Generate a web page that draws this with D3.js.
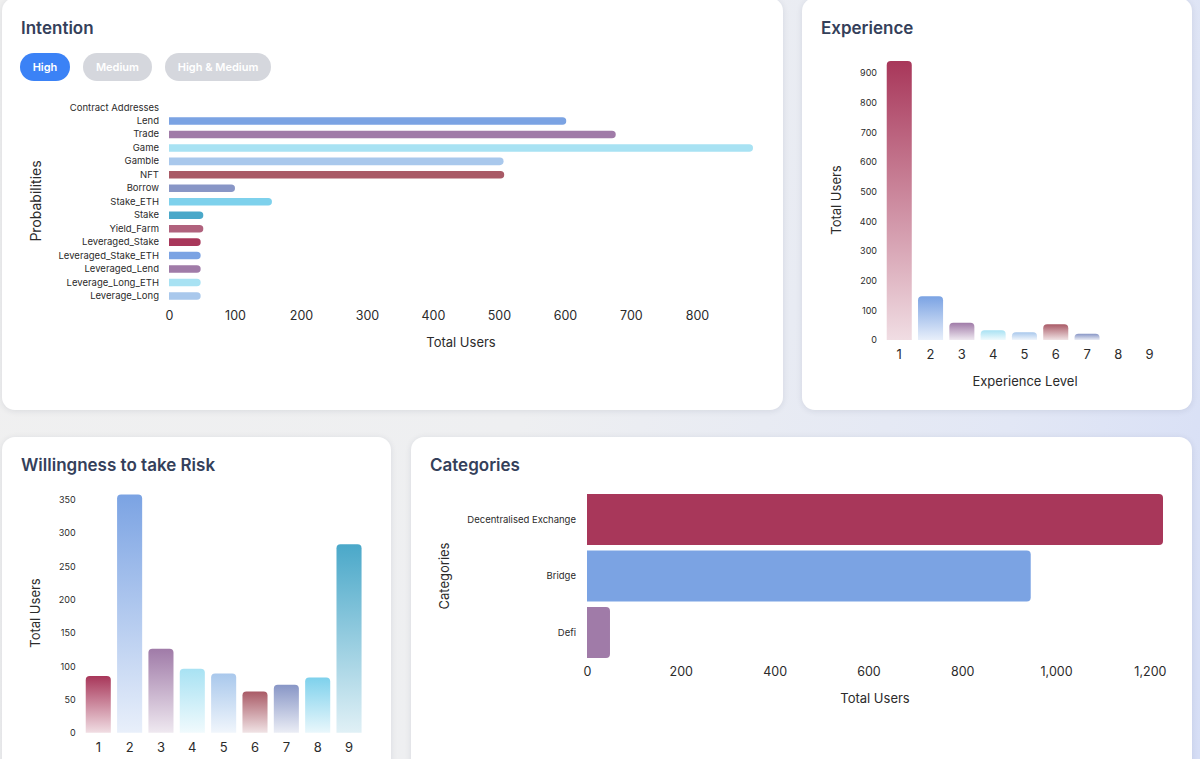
<!DOCTYPE html>
<html>
<head>
<meta charset="utf-8">
<script src="https://cdn.jsdelivr.net/npm/d3@7/dist/d3.min.js"></script>
<style>
  html, body { margin: 0; padding: 0; }
  body {
    width: 1200px; height: 759px; overflow: hidden; position: relative;
    background: linear-gradient(105deg, #f0f0f0 0%, #eeeff1 45%, #e2e7f5 80%, #d6def6 100%);
    font-family: Inter, "Open Sans", sans-serif;
  }
  .card {
    position: absolute; background: #fff; border-radius: 13px;
    box-shadow: 0 1px 6px rgba(30, 40, 70, 0.10);
  }
  #chart { position: absolute; left: 0; top: 0; }
</style>
</head>
<body>
<div class="card" style="left:2px; top:-2px; width:781px; height:412px;"></div>
<div class="card" style="left:802px; top:-2px; width:390px; height:412px;"></div>
<div class="card" style="left:2px; top:437px; width:389px; height:340px;"></div>
<div class="card" style="left:411px; top:437px; width:781px; height:340px;"></div>
<svg id="chart"></svg>
<script>
// palette used by every chart, in series order
const palette = ['#a8375a', '#7ba3e3', '#a07ba8', '#a8e2f3', '#a9c8ec',
                 '#a95a66', '#8896c6', '#7ed1ec', '#4aa8c9', '#b0627d'];

// Intention
const intentButtons = ['High', 'Medium', 'High & Medium'];
const intentCats = ['Contract Addresses', 'Lend', 'Trade', 'Game', 'Gamble', 'NFT', 'Borrow',
  'Stake_ETH', 'Stake', 'Yield_Farm', 'Leveraged_Stake', 'Leveraged_Stake_ETH',
  'Leveraged_Lend', 'Leverage_Long_ETH', 'Leverage_Long'];
const intentVals = [0, 602, 677, 885, 507, 508, 100, 156, 52, 52, 48, 48, 48, 48, 48];
const intentTicks = [0, 100, 200, 300, 400, 500, 600, 700, 800];

// Experience
const expLevels = ['1', '2', '3', '4', '5', '6', '7', '8', '9'];
const expVals = [940, 147, 58, 33, 26, 53, 21, 0, 0];
const expTicks = [0, 100, 200, 300, 400, 500, 600, 700, 800, 900];

// Willingness to take Risk
const riskLevels = ['1', '2', '3', '4', '5', '6', '7', '8', '9'];
const riskVals = [85, 358, 126, 96, 89, 62, 72, 83, 283];
const riskTicks = [0, 50, 100, 150, 200, 250, 300, 350];

// Categories
const catNames = ['Decentralised Exchange', 'Bridge', 'Defi'];
const catVals = [1228, 946, 49];
const catTicks = [0, 200, 400, 600, 800, 1000, 1200];

const svg = d3.select('#chart').attr('width', 1200).attr('height', 759);

// gradients for the vertical bars
const defs = svg.append('defs');
palette.forEach((c, i) => {
  const g = defs.append('linearGradient')
    .attr('id', 'grad' + i)
    .attr('x1', 0).attr('y1', 0).attr('x2', 0).attr('y2', 1);
  g.append('stop').attr('offset', '0%').attr('stop-color', c).attr('stop-opacity', 1);
  g.append('stop').attr('offset', '100%').attr('stop-color', c).attr('stop-opacity', 0.17);
});

const titleColor = '#34405a';
const textColor = '#2b2b2b';

const title = (x, y, t) => svg.append('text')
  .attr('x', x).attr('y', y).text(t)
  .style('font-size', '17px').style('font-weight', 600).style('fill', titleColor);

const axisTitle = (x, y, t, rotate) => {
  const el = svg.append('text')
    .attr('text-anchor', 'middle')
    .attr('dominant-baseline', 'central')
    .text(t)
    .style('font-size', '13px').style('fill', textColor);
  if (rotate) el.attr('transform', `translate(${x},${y}) rotate(-90)`);
  else el.attr('x', x).attr('y', y);
  return el;
};

const styleAxis = (g, size) => {
  g.select('.domain').remove();
  g.selectAll('text').style('font-size', size + 'px').style('fill', textColor)
    .style('font-family', 'Inter, "Open Sans", sans-serif');
};

// horizontal bar, square start, rounded end
const hbarRound = (x0, y0, w, h, r) => {
  if (w <= 0) return '';
  r = Math.min(r, w, h / 2);
  const x1 = x0 + w;
  return `M${x0},${y0}H${x1 - r}A${r},${r} 0 0 1 ${x1},${y0 + r}V${y0 + h - r}` +
    `A${r},${r} 0 0 1 ${x1 - r},${y0 + h}H${x0}Z`;
};
// vertical bar, rounded top corners
const vbarRound = (x0, yTop, w, yBase, r) => {
  const h = yBase - yTop;
  if (h <= 0) return '';
  r = Math.min(r, h, w / 2);
  return `M${x0},${yBase}V${yTop + r}A${r},${r} 0 0 1 ${x0 + r},${yTop}H${x0 + w - r}` +
    `A${r},${r} 0 0 1 ${x0 + w},${yTop + r}V${yBase}Z`;
};

// ---------- Intention ----------
title(21, 34, 'Intention');

const btnX = [20, 83, 165];
const btnW = [50, 69, 106];
intentButtons.forEach((b, i) => {
  svg.append('rect')
    .attr('x', btnX[i]).attr('y', 53).attr('width', btnW[i]).attr('height', 28)
    .attr('rx', 14)
    .attr('fill', i === 0 ? '#3b82f6' : '#d5d7dd');
  svg.append('text')
    .attr('x', btnX[i] + btnW[i] / 2).attr('y', 67)
    .attr('text-anchor', 'middle').attr('dominant-baseline', 'central')
    .text(b)
    .style('font-size', '11px').style('font-weight', 600).style('fill', '#fff');
});

const ix = d3.scaleLinear().domain([0, 885]).range([169, 753]);
const iy = d3.scaleBand().domain(intentCats).range([100.8, 302.7]).paddingInner(0.44).paddingOuter(0.22);

svg.append('g').selectAll('path')
  .data(intentCats)
  .enter()
  .append('path')
  .attr('d', (d, i) => hbarRound(ix(0), iy(d), ix(intentVals[i]) - ix(0), iy.bandwidth(), iy.bandwidth() / 2))
  .attr('fill', (d, i) => palette[i % palette.length]);

svg.append('g')
  .attr('transform', `translate(${ix(0)},0)`)
  .call(d3.axisLeft(iy).tickSize(0).tickPadding(10))
  .call(g => styleAxis(g, 9.5));

svg.append('g')
  .attr('transform', 'translate(0,303)')
  .call(d3.axisBottom(ix).tickValues(intentTicks).tickSize(0).tickPadding(8.5))
  .call(g => styleAxis(g, 12.5));

axisTitle(461, 342, 'Total Users');
axisTitle(35, 201, 'Probabilities', true).style('font-size', '14px');

// ---------- Experience ----------
title(821, 34, 'Experience');

const ex = d3.scaleBand().domain(expLevels).range([883.6, 1165.3]).paddingInner(0.2).paddingOuter(0.1);
const ey = d3.scaleLinear().domain([0, 940]).range([340, 61]);

svg.append('g').selectAll('path')
  .data(expLevels)
  .enter()
  .append('path')
  .attr('d', (d, i) => vbarRound(ex(d), ey(expVals[i]), ex.bandwidth(), ey(0), 4))
  .attr('fill', (d, i) => `url(#grad${i % palette.length})`);

svg.append('g')
  .attr('transform', 'translate(883,0)')
  .call(d3.axisLeft(ey).tickValues(expTicks).tickSize(0).tickPadding(6))
  .call(g => styleAxis(g, 9));

svg.append('g')
  .attr('transform', 'translate(0,340)')
  .call(d3.axisBottom(ex).tickSize(0).tickPadding(9.5))
  .call(g => styleAxis(g, 13));

axisTitle(1025, 381, 'Experience Level');
axisTitle(836, 200, 'Total Users', true);

// ---------- Willingness to take Risk ----------
title(21, 471, 'Willingness to take Risk');

const rx = d3.scaleBand().domain(riskLevels).range([82.6, 364.7]).paddingInner(0.2).paddingOuter(0.1);
const ry = d3.scaleLinear().domain([0, 358]).range([732.7, 494.4]);

svg.append('g').selectAll('path')
  .data(riskLevels)
  .enter()
  .append('path')
  .attr('d', (d, i) => vbarRound(rx(d), ry(riskVals[i]), rx.bandwidth(), ry(0), 4))
  .attr('fill', (d, i) => `url(#grad${i % palette.length})`);

svg.append('g')
  .attr('transform', 'translate(82.6,0)')
  .call(d3.axisLeft(ry).tickValues(riskTicks).tickSize(0).tickPadding(7))
  .call(g => styleAxis(g, 9));

svg.append('g')
  .attr('transform', 'translate(0,732.7)')
  .call(d3.axisBottom(rx).tickSize(0).tickPadding(9.7))
  .call(g => styleAxis(g, 13));

axisTitle(35, 613, 'Total Users', true);

// ---------- Categories ----------
title(430, 471, 'Categories');

const cx = d3.scaleLinear().domain([0, 1228]).range([587, 1163]);
const cy = d3.scaleBand().domain(catNames).range([491.25, 660.75]).paddingInner(0.1).paddingOuter(0.05);

svg.append('g').selectAll('path')
  .data(catNames)
  .enter()
  .append('path')
  .attr('d', (d, i) => hbarRound(cx(0), cy(d), cx(catVals[i]) - cx(0), cy.bandwidth(), 4))
  .attr('fill', (d, i) => palette[i % palette.length]);

svg.append('g')
  .attr('transform', `translate(${cx(0)},0)`)
  .call(d3.axisLeft(cy).tickSize(0).tickPadding(11))
  .call(g => styleAxis(g, 9.5));

svg.append('g')
  .attr('transform', 'translate(0,661)')
  .call(d3.axisBottom(cx).tickValues(catTicks).tickSize(0).tickPadding(6).tickFormat(d3.format(',')))
  .call(g => styleAxis(g, 12.5));

axisTitle(875, 698, 'Total Users');
axisTitle(444, 576, 'Categories', true);
</script>
</body>
</html>
